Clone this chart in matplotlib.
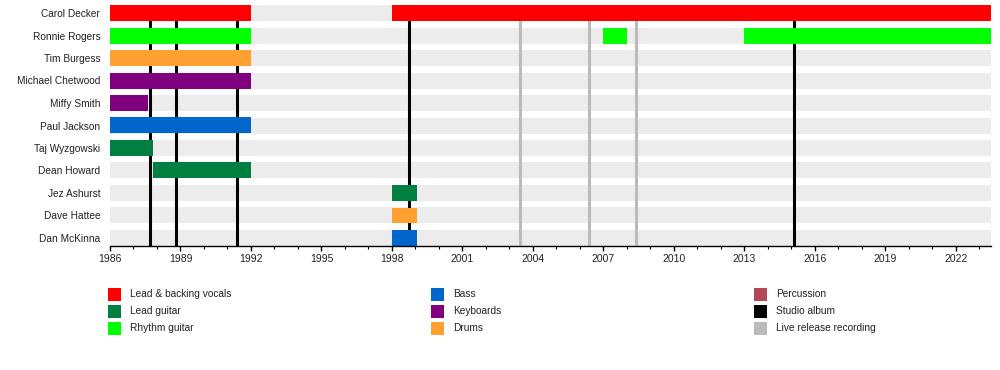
import matplotlib
matplotlib.use("Agg")
import matplotlib.pyplot as plt
from matplotlib.patches import Rectangle

plt.rcParams['font.family'] = ['Liberation Sans', 'DejaVu Sans']

members = ["Carol Decker", "Ronnie Rogers", "Tim Burgess", "Michael Chetwood",
           "Miffy Smith", "Paul Jackson", "Taj Wyzgowski", "Dean Howard",
           "Jez Ashurst", "Dave Hattee", "Dan McKinna"]

# membership segments
seg_member = ["Carol Decker", "Carol Decker",
              "Ronnie Rogers", "Ronnie Rogers", "Ronnie Rogers",
              "Tim Burgess", "Michael Chetwood", "Miffy Smith", "Paul Jackson",
              "Taj Wyzgowski", "Dean Howard",
              "Jez Ashurst", "Dave Hattee", "Dan McKinna"]
seg_start = [1986.0, 1998.0,
             1986.0, 2007.0, 2013.0,
             1986.0, 1986.0, 1986.0, 1986.0,
             1986.0, 1987.85,
             1998.0, 1998.0, 1998.0]
seg_end = [1992.0, 2023.5,
           1992.0, 2008.0, 2023.5,
           1992.0, 1992.0, 1987.6, 1992.0,
           1987.85, 1992.0,
           1999.05, 1999.05, 1999.05]
seg_role = ["Lead & backing vocals", "Lead & backing vocals",
            "Rhythm guitar", "Rhythm guitar", "Rhythm guitar",
            "Drums", "Keyboards", "Keyboards", "Bass",
            "Lead guitar", "Lead guitar",
            "Lead guitar", "Drums", "Bass"]

roles = ["Lead & backing vocals", "Lead guitar", "Rhythm guitar",
         "Bass", "Keyboards", "Drums",
         "Percussion", "Studio album", "Live release recording"]
role_colors = ["#FF0000", "#008040", "#00FF00",
               "#0066CC", "#800080", "#FFA030",
               "#B24A55", "#000000", "#BBBBBB"]

studio_albums = [1987.7, 1988.8, 1991.4, 1998.72, 2015.1]
live_releases = [2003.45, 2006.4, 2008.4]

x_start, x_end = 1986.0, 2023.5
major_ticks = list(range(1986, 2023, 3))
minor_ticks = list(range(1986, 2024))

color_of = dict(zip(roles, role_colors))

fig = plt.figure(figsize=(10, 3.7), dpi=100)
ax = fig.add_axes([0.11, 1 - 246 / 370, 0.991 - 0.11, 241 / 370])

bar_h = 16 / 22.5
row = {m: i for i, m in enumerate(members)}

# background stripes
ax.barh(range(len(members)), [x_end - x_start] * len(members), left=x_start,
        height=bar_h, color="#ECECEC", zorder=1, linewidth=0)

for x in studio_albums:
    ax.axvline(x, color=color_of["Studio album"], lw=2.2, zorder=2)
for x in live_releases:
    ax.axvline(x, color=color_of["Live release recording"], lw=2.2, zorder=2)

for m, s, e, r in zip(seg_member, seg_start, seg_end, seg_role):
    ax.barh(row[m], e - s, left=s, height=bar_h, color=color_of[r],
            zorder=3, linewidth=0)

ax.set_xlim(x_start, x_end)
ax.set_ylim(len(members) - 1 + bar_h / 2, -bar_h / 2)

ax.set_yticks(range(len(members)))
ax.set_yticklabels(members, fontsize=7.3, color="#222222")
ax.tick_params(axis='y', length=0, pad=7)

ax.set_xticks(major_ticks)
ax.set_xticklabels([str(t) for t in major_ticks], fontsize=7.5, color="#222222")
ax.set_xticks(minor_ticks, minor=True)
ax.tick_params(axis='x', which='major', length=3.5, width=1, direction='out', pad=2)
ax.tick_params(axis='x', which='minor', length=2, width=0.8, direction='out')

for s in ["top", "right", "left"]:
    ax.spines[s].set_visible(False)
ax.spines["bottom"].set_linewidth(1)
ax.spines["bottom"].set_zorder(5)

# legend
col_x = [108, 431, 754]
row_y = [294, 311, 328]
W, H = 1000.0, 370.0
sq = 13
for i, (r, c) in enumerate(zip(roles, role_colors)):
    cx = col_x[i // 3]
    cy = row_y[i % 3]
    fig.add_artist(Rectangle((cx / W, 1 - (cy + sq / 2) / H), sq / W, sq / H,
                             transform=fig.transFigure, facecolor=c,
                             edgecolor="none"))
    fig.text((cx + 22) / W, 1 - cy / H, r, fontsize=7.3, va="center",
             ha="left", color="#222222")

fig.savefig("out.png", dpi=100, facecolor="white")
